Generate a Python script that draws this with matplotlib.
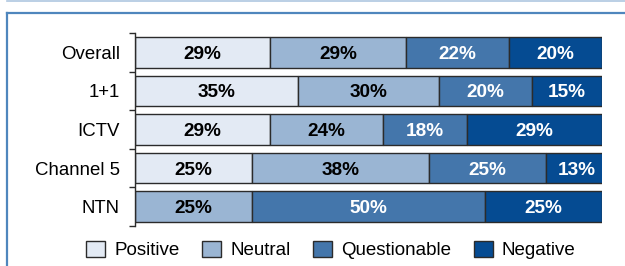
import matplotlib
matplotlib.use("Agg")
import matplotlib.pyplot as plt
from matplotlib.lines import Line2D
import numpy as np

categories = ["Overall", "1+1", "ICTV", "Channel 5", "NTN"]
series = ["Positive", "Neutral", "Questionable", "Negative"]
positive = [29, 35, 29, 25, 0]
neutral = [29, 30, 24, 38, 25]
questionable = [22, 20, 18, 25, 50]
negative = [20, 15, 29, 13, 25]
colors = ["#E3EAF4", "#9AB5D3", "#4476AB", "#054B92"]
text_colors = ["black", "black", "white", "white"]

plt.rcParams['font.family'] = ['Liberation Sans', 'DejaVu Sans']

fig = plt.figure(figsize=(6.25, 2.66), dpi=100)
W, H = 625, 266
ax = fig.add_axes([135 / W, 1 - 226 / H, (602 - 135) / W, (226 - 33) / H])

y = np.arange(len(categories))
left = np.zeros(len(categories))
for vals, col, tcol, name in zip([positive, neutral, questionable, negative], colors, text_colors, series):
    vals = np.array(vals, dtype=float)
    ax.barh(y, vals, left=left, height=0.79, color=col, edgecolor="#2b2b2b", linewidth=1.0, label=name)
    for yi, v, l in zip(y, vals, left):
        if v > 0:
            ax.text(l + v / 2, yi, f"{int(v)}%", ha="center", va="center_baseline",
                    color=tcol, fontsize=13.7, fontweight="bold")
    left += vals

ax.set_xlim(0, 100)
ax.set_ylim(len(categories) - 0.5, -0.5)
ax.set_yticks(y)
ax.set_yticklabels(categories, fontsize=13.4)
ax.tick_params(axis="y", which="major", length=0, pad=11)
ax.set_yticks(np.arange(len(categories) + 1) - 0.5, minor=True)
ax.tick_params(axis="y", which="minor", length=4, width=1, color="#2b2b2b", direction="out")
ax.set_xticks([])
for s in ["top", "right", "bottom"]:
    ax.spines[s].set_visible(False)
ax.spines["left"].set_color("#2b2b2b")
ax.spines["left"].set_linewidth(1.0)

handles, labels = ax.get_legend_handles_labels()
fig.legend(handles, labels, loc="center", bbox_to_anchor=(331 / W, 1 - 250 / H),
           ncol=4, frameon=False, fontsize=13.5, handlelength=1.0, handleheight=1.0,
           handletextpad=0.5, columnspacing=1.2)

# frame lines
fig.add_artist(Line2D([7 / W, 1], [1 - 0.8 / H, 1 - 0.8 / H], color="#AFC7E0", linewidth=1.2, transform=fig.transFigure))
fig.add_artist(Line2D([7 / W, 1], [1 - 12.5 / H, 1 - 12.5 / H], color="#4F86BD", linewidth=1.6, transform=fig.transFigure))
fig.add_artist(Line2D([7 / W, 7 / W], [0, 1 - 12.5 / H], color="#4F86BD", linewidth=1.6, transform=fig.transFigure))

fig.savefig("out.png", dpi=100)
